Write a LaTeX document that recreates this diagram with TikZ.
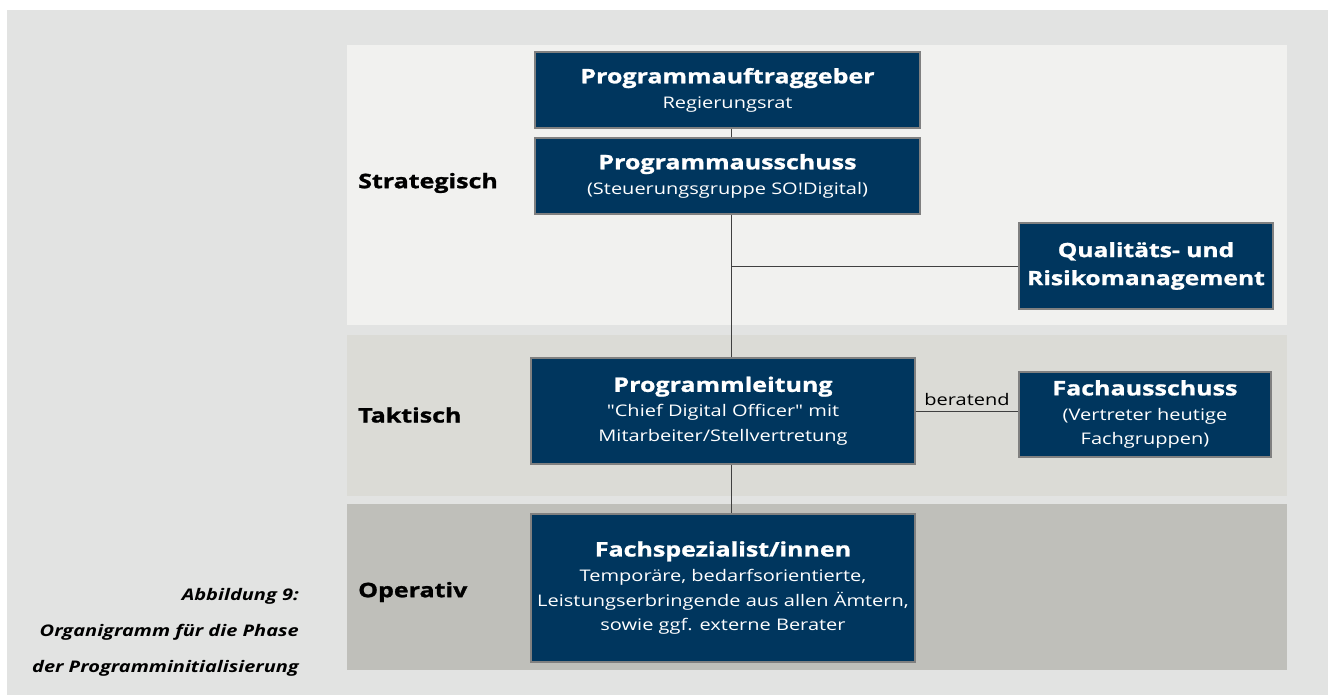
\documentclass[tikz,border=0pt]{standalone}
\usepackage{fontspec}
\setmainfont[FakeStretch=1.25, BoldFeatures={FakeBold=1.2}]{Open Sans}
\newfontfamily\straightq[FakeStretch=1.25, Ligatures=TeXOff]{Open Sans}
\definecolor{navy}{RGB}{0,54,94}
\definecolor{boxedge}{RGB}{128,128,128}
\definecolor{pagebg}{RGB}{226,227,226}
\definecolor{bandstrat}{RGB}{241,241,239}
\definecolor{bandtakt}{RGB}{219,219,214}
\definecolor{bandop}{RGB}{191,191,186}
\definecolor{wire}{RGB}{64,64,64}
\tikzset{
  unit/.style={draw=boxedge, line width=1.3pt, fill=navy, text=white, align=center,
    inner sep=0pt, font=\fontsize{16}{24.8}\selectfont},
  level/.style={anchor=west, inner sep=0pt, font=\fontsize{20}{25}\selectfont\bfseries},
  link/.style={draw=wire, line width=1pt},
}
\newcommand{\ttl}[1]{{\fontsize{20}{25}\selectfont\bfseries #1}}
\newcommand{\dq}{{\straightq\char34}}
\begin{document}
\begin{tikzpicture}[x=1pt, y=-1pt]
\useasboundingbox (0,0) rectangle (1328,695);
% page background and the three level bands
\fill[pagebg] (7,10) rectangle (1328,695);
\fill[bandstrat] (347,45) rectangle (1287,325);
\fill[bandtakt] (347,335) rectangle (1287,496);
\fill[bandop] (347,504) rectangle (1287,670);

% level labels
\node[level] (lstrat) at (358,183) {Strategisch};
\node[level] (ltakt) at (358,415) {Taktisch};
\node[level] (lop) at (358,592) {Operativ};

% caption
\node[anchor=east, align=right, inner sep=0pt,
  font=\fontsize{16}{36}\selectfont\bfseries\itshape] (cap) at (299,632)
  {Abbildung 9:\\Organigramm für die Phase\\der Programminitialisierung};

% organisational units
\node[unit, minimum width=385pt, minimum height=76pt] (auf) at (727.5,90)
  {\ttl{Programmauftraggeber}\\Regierungsrat};
\node[unit, minimum width=385pt, minimum height=76pt] (aus) at (727.5,176)
  {\ttl{Programmausschuss}\\(Steuerungsgruppe SO!Digital)};
\node[unit, minimum width=254pt, minimum height=86pt, font=\fontsize{19.7}{28}\selectfont\bfseries] (qr) at (1146,266)
  {Qualitäts- und\\Risikomanagement};
\node[unit, minimum width=384pt, minimum height=106pt] (pl) at (723,411)
  {\ttl{Programmleitung}\\\dq Chief Digital Officer\dq{} mit\\Mitarbeiter/Stellvertretung};
\node[unit, minimum width=252pt, minimum height=85pt] (fa) at (1145,414.5)
  {\ttl{Fachausschuss}\\(Vertreter heutige\\Fachgruppen)};
\node[unit, minimum width=384pt, minimum height=148pt] (fs) at (723,588)
  {\ttl{Fachspezialist/innen}\\Temporäre, bedarfsorientierte,\\Leistungserbringende aus allen Ämtern,\\sowie ggf. externe Berater};

% connectors
\coordinate (spine) at (731,0);
\draw[link] (auf.south -| spine) -- (aus.north -| spine);
\draw[link] (aus.south -| spine) -- (pl.north -| spine);
\draw[link] (spine |- qr.west) -- (qr.west);
\draw[link] (pl.south -| spine) -- (fs.north -| spine);
\draw[link] (pl.east) -- node[above=2pt, text=black, font=\fontsize{16}{20}\selectfont] (ber) {beratend} (pl.east -| fa.west);
\end{tikzpicture}
\end{document}
